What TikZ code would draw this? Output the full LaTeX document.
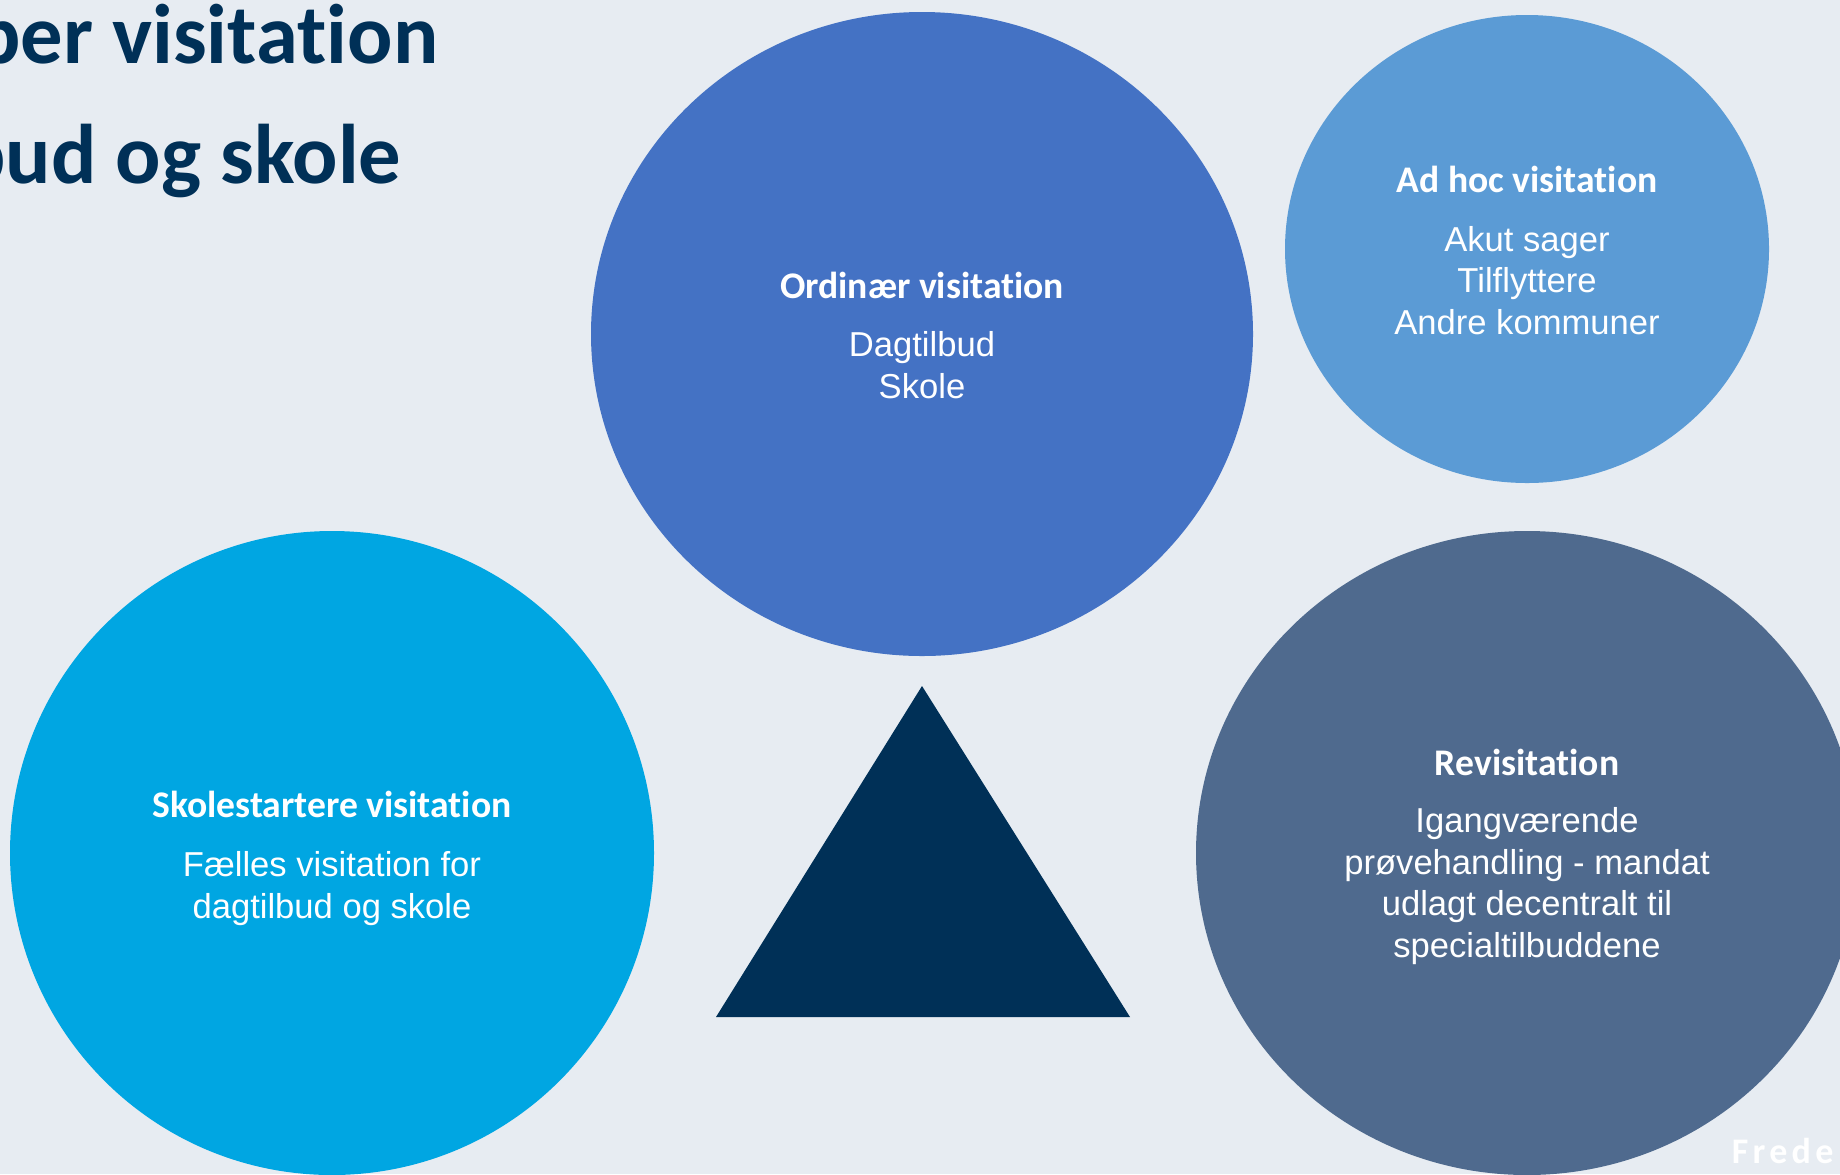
\documentclass[tikz,border=0pt]{standalone}
\usepackage{fontspec}
\setmainfont{Liberation Sans}
\newfontfamily\calibri[Ligatures=NoCommon]{Carlito}
\newfontfamily\calibrisp[LetterSpace=12]{Carlito}

\definecolor{bgGrey}{RGB}{231,236,242}
\definecolor{navyDark}{RGB}{0,48,87}
\definecolor{ordBlue}{RGB}{68,114,196}
\definecolor{adhocBlue}{RGB}{91,155,213}
\definecolor{skoleBlue}{RGB}{0,166,226}
\definecolor{reviBlue}{RGB}{79,106,142}

\tikzset{every picture/.style={line width=0.75pt}}
\tikzset{
	headtxt/.style={text=white,inner sep=0pt,anchor=base,font=\calibri\bfseries\fontsize{18.8}{22}\selectfont},
	bodytxt/.style={text=white,inner sep=0pt,anchor=base,align=center,font=\fontsize{17.3}{20.75}\selectfont},
	titletxt/.style={text=navyDark,inner sep=0pt,anchor=base east,font=\calibri\bfseries\fontsize{42.3}{50}\selectfont}
}

\begin{document}
\begin{tikzpicture}[x=0.5pt,y=0.5pt,yscale=-1,xscale=1]
	%set diagram to the slide size
	\useasboundingbox (0,0) rectangle (1840,1174);

	%Shape: Rectangle [background]
	\draw  [draw opacity=0][fill=bgGrey ,fill opacity=1 ] (0,0) -- (1840,0) -- (1840,1174) -- (0,1174) -- cycle ;
	%Shape: Ellipse [ordinaer]
	\draw  [draw opacity=0][fill=ordBlue ,fill opacity=1 ] (922,334) ellipse (331 and 322) ;
	%Shape: Ellipse [adhoc]
	\draw  [draw opacity=0][fill=adhocBlue ,fill opacity=1 ] (1527,249) ellipse (242 and 234) ;
	%Shape: Circle [skolestart]
	\draw  [draw opacity=0][fill=skoleBlue ,fill opacity=1 ] (332,853) ellipse (322 and 322) ;
	%Shape: Ellipse [revisitation]
	\draw  [draw opacity=0][fill=reviBlue ,fill opacity=1 ] (1527,853) ellipse (331 and 322) ;
	%Shape: Triangle [id:pyramid]
	\draw  [draw opacity=0][fill=navyDark ,fill opacity=1 ] (922,686) -- (1130,1017) -- (716,1017) -- cycle ;

	% Text Node
	\node [titletxt] (title1) at (439,63) {per visitation};
	% Text Node
	\node [titletxt] (title2) at (402,183) {bud og skole};

	% Text Node (base = last line)
	\node [headtxt] (ordHead) at (922,298) {Ordinær visitation};
	% Text Node
	\node [bodytxt] (ordBody) at (922,398) {Dagtilbud\\Skole};

	% Text Node
	\node [headtxt] (adhocHead) at (1527,192) {Ad hoc visitation};
	% Text Node
	\node [bodytxt] (adhocBody) at (1527,334) {Akut sager\\Tilflyttere\\Andre kommuner};

	% Text Node
	\node [headtxt] (skoleHead) at (332,817) {Skolestartere visitation};
	% Text Node
	\node [bodytxt] (skoleBody) at (332,918) {Fælles visitation for\\dagtilbud og skole};

	% Text Node
	\node [headtxt] (reviHead) at (1527,775) {Revisitation};
	% Text Node
	\node [bodytxt] (reviBody) at (1527,957) {Igangværende\\prøvehandling - mandat\\udlagt decentralt til\\specialtilbuddene};

	% Text Node
	\node [text=white,inner sep=0pt,anchor=base west,font=\calibrisp\bfseries\fontsize{18}{20}\selectfont] (brand) at (1731,1163) {Frede};

\end{tikzpicture}
\end{document}
